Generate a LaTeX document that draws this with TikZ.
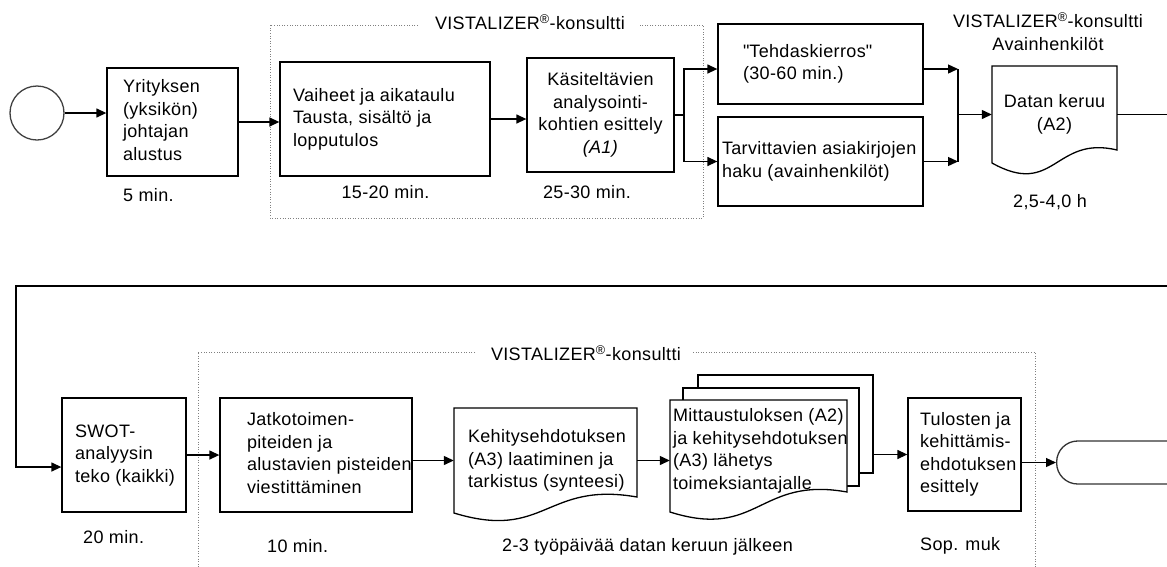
\documentclass[tikz,border=0pt]{standalone}
\usepackage{fontspec}
\setmainfont{Liberation Sans}[LetterSpace=2]
\newfontfamily\rawqf{Liberation Sans}[LetterSpace=2]
\usetikzlibrary{arrows.meta,calc}
\newcommand\lbx[2]{\makebox[#1][l]{\begin{tabular}{@{}l@{}}#2\end{tabular}}}
\newcommand\cbx[1]{\begin{tabular}{@{}c@{}}#1\end{tabular}}
\newcommand\vis{VISTALIZER\textsuperscript{®}-konsultti}
\begin{document}
\begin{tikzpicture}[x=1pt,y=-1pt,
  every node/.style={font=\fontsize{18}{22.5}\selectfont, inner sep=0pt},
  box/.style={draw, line width=1.3pt, fill=white, rectangle},
  ln/.style={line width=1.3pt},
  arr/.style={line width=1.3pt, -{Triangle[length=10pt,width=9pt]}},
  grp/.style={draw=gray, line width=0.9pt, dash pattern=on 1pt off 1.6pt},
  doc/.style={draw, line width=1.3pt, fill=white, line join=miter},
  lbl/.style={anchor=west}]
\useasboundingbox (0,0) rectangle (1167,566);

% groups
\draw[grp] (418,25) -- (270,25) -- (270,218) -- (703,218) -- (703,25) -- (640,25);
\node (g1t) at (530,22) {\vis};
\draw[grp] (475,352) -- (198,352) -- (198,600);
\draw[grp] (693,352) -- (1035,352) -- (1035,600);
\node (g2t) at (586,353) {\vis};

% top row
\node[draw=black!75, line width=1.3pt, circle, minimum size=54pt] (start) at (37,113) {};
\node[box, minimum width=131pt, minimum height=108pt] (b1) at (172.5,122) {\lbx{99pt}{Yrityksen\\(yksikön)\\johtajan\\alustus}};
\node[box, minimum width=210pt, minimum height=114pt] (b2) at (385,119) {\lbx{184pt}{Vaiheet ja aikataulu\\Tausta, sisältö ja\\lopputulos}};
\node[box, minimum width=147pt, minimum height=114pt] (b3) at (600.5,115) {\cbx{Käsiteltävien\\analysointi-\\kohtien esittely\\\textit{(A1)}}};
\node[box, minimum width=205pt, minimum height=80pt] (b4) at (820.5,64) {\lbx{155pt}{{\rawqf"}Tehdaskierros{\rawqf"}\\(30-60 min.)}};
\node[box, minimum width=205pt, minimum height=89pt] (b5) at (820.5,161.5) {\lbx{197pt}{Tarvittavien asiakirjojen\\haku (avainhenkilöt)}};
\draw[doc] (992,66) -- (1117,66) -- (1117,150) .. controls (1054.5,135) and (1054.5,198) .. (992,163) -- cycle;
\node[minimum width=125pt, minimum height=97pt] (data) at (1054.5,114.5) {\cbx{Datan keruu\\(A2)}};
\node[align=center] (t2) at (1048,31.5) {\vis\\Avainhenkilöt};

\node[lbl] (l1) at (123,195) {5 min.};
\node (l2) at (385.5,192) {15-20 min.};
\node (l3) at (587,192) {25-30 min.};
\node (l4) at (1050,202) {2,5-4,0 h};

% bottom row
\node[box, minimum width=124pt, minimum height=114pt] (swot) at (124,455) {\lbx{98pt}{SWOT-\\analyysin\\teko (kaikki)}};
\node[box, minimum width=192pt, minimum height=114pt] (jatko) at (316,455) {\lbx{138pt}{Jatkotoimen-\\piteiden ja\\alustavien pisteiden\\viestittäminen}};
\draw[doc] (454,408) -- (637,408) -- (637,497) .. controls (545.5,481) and (545.5,541) .. (454,513) -- cycle;
\node[minimum width=183pt, minimum height=105pt] (keh) at (545.5,460.5) {\lbx{155pt}{Kehitysehdotuksen\\(A3) laatiminen ja\\tarkistus (synteesi)}};
\node[box, minimum width=175pt, minimum height=98pt] (m3) at (785.5,424) {};
\node[box, minimum width=176pt, minimum height=98pt] (m2) at (771,437) {};
\draw[doc] (670,400) -- (847,400) -- (847,492) .. controls (758.5,476) and (758.5,540) .. (670,512) -- cycle;
\node[minimum width=177pt, minimum height=102pt] (mitt) at (758.5,451) {\lbx{171pt}{Mittaustuloksen (A2)\\ja kehitysehdotuksen\\(A3) lähetys\\toimeksiantajalle}};
\node[box, minimum width=113pt, minimum height=113pt] (tul) at (964.5,454.5) {\lbx{89pt}{Tulosten ja\\kehittämis-\\ehdotuksen\\esittely}};
\node[draw=black!80, line width=1.3pt, rounded corners=21pt, minimum width=150pt, minimum height=43pt, anchor=west] (end) at (1056,462.5) {};

\node[lbl] (l5) at (83,537) {20 min.};
\node[lbl] (l6) at (267,546) {10 min.};
\node[lbl] (l7) at (502,547) {2-3 työpäivää datan keruun jälkeen};
\node[lbl] (l8) at (920,546) {Sop. muk};

% connectors top
\draw[arr] (start.east) -- (start.east -| b1.west);
\draw[arr] (b1.east) -- (b1.east -| b2.west);
\draw[arr] (b2.east) -- (b2.east -| b3.west);
\coordinate (br) at (684,117);
\coordinate (b4in) at ([yshift=-5pt]b4.west);
\coordinate (b4out) at ([yshift=-5pt]b4.east);
\draw[arr] (b3.east) -- (b3.east -| br) |- (b4in);
\draw[arr] (b3.east -| br) |- (b5.west);
\coordinate (mg) at (958,117);
\draw[arr] (b4out) -- (b4out -| mg);
\draw[arr] (b5.east) -- (b5.east -| mg);
\draw[ln] (b4out -| mg) -- (b5.east -| mg);
\draw[arr] (mg |- data.west) -- (data.west);
\coordinate (sw) at ([yshift=-12pt]swot.west);
\draw[arr] (data.east) -- ++(70,0) |- (16,286) |- (sw);

% connectors bottom
\draw[arr] (swot.east) -- (swot.east -| jatko.west);
\draw[arr] (keh.west -| jatko.east) -- (keh.west);
\draw[arr] (keh.east) -- (keh.east -| mitt.west);
\draw[arr] (tul.west -| m3.east) -- (tul.west);
\draw[arr] (end.west -| tul.east) -- (end.west);
\end{tikzpicture}
\end{document}
